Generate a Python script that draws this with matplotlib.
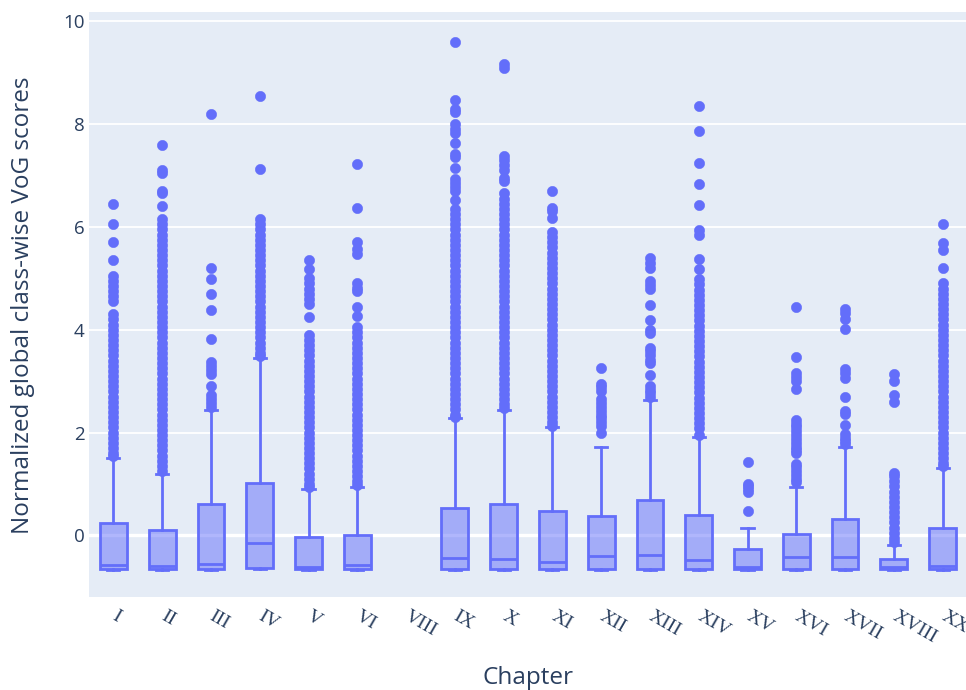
import matplotlib.pyplot as plt

# ── Data ──────────────────────────────────────────────
chapters = ['I', 'II', 'III', 'IV', 'V', 'VI', 'VIII', 'IX', 'X',
            'XI', 'XII', 'XIII', 'XIV', 'XV', 'XVI', 'XVII',
            'XVIII', 'XX']

# chapters that actually have a box (VIII is empty)
box_chapters = ['I', 'II', 'III', 'IV', 'V', 'VI', 'IX', 'X', 'XI',
                'XII', 'XIII', 'XIV', 'XV', 'XVI', 'XVII', 'XVIII', 'XX']

q1 = [-0.66, -0.66, -0.66, -0.64, -0.66, -0.66, -0.66, -0.66, -0.66,
      -0.66, -0.66, -0.66, -0.66, -0.66, -0.66, -0.66, -0.66]
median = [-0.58, -0.59, -0.56, -0.15, -0.62, -0.58, -0.45, -0.46, -0.51,
          -0.41, -0.39, -0.48, -0.62, -0.43, -0.43, -0.62, -0.59]
q3 = [0.23, 0.10, 0.61, 1.01, -0.03, 0.00, 0.53, 0.61, 0.47,
      0.37, 0.68, 0.39, -0.27, 0.03, 0.32, -0.46, 0.14]
whisker_lo = [-0.68, -0.68, -0.68, -0.66, -0.68, -0.68, -0.68, -0.68, -0.68,
              -0.68, -0.68, -0.68, -0.68, -0.68, -0.68, -0.68, -0.68]
whisker_hi = [1.51, 1.19, 2.44, 3.44, 0.90, 0.94, 2.28, 2.44, 2.10,
              1.72, 2.64, 1.92, 0.14, 0.94, 1.71, -0.19, 1.31]

outliers_I = [6.45, 6.05, 5.7, 5.35, 5.05, 4.95, 4.85, 4.75, 4.65, 4.55,
              4.3, 4.2, 4.1, 4.0, 3.9, 3.8, 3.7, 3.6, 3.5, 3.4, 3.3, 3.2,
              3.1, 3.0, 2.9, 2.8, 2.7, 2.6, 2.5, 2.4, 2.3, 2.2, 2.1, 2.0,
              1.9, 1.8, 1.7, 1.6, 1.55]
outliers_II = [7.6, 7.1, 7.05, 6.7, 6.65, 6.4, 6.15, 6.05, 5.95, 5.85,
               5.75, 5.65, 5.55, 5.45, 5.35, 5.25, 5.15, 5.05, 4.95, 4.85,
               4.75, 4.65, 4.55, 4.45, 4.35, 4.25, 4.15, 4.05, 3.95, 3.85,
               3.75, 3.65, 3.55, 3.45, 3.35, 3.25, 3.15, 3.05, 2.95, 2.85,
               2.75, 2.65, 2.55, 2.45, 2.35, 2.25, 2.15, 2.05, 1.95, 1.85,
               1.75, 1.65, 1.55, 1.45, 1.35, 1.25]
outliers_III = [8.2, 5.2, 4.98, 4.7, 4.38, 3.82, 3.38, 3.3, 3.22, 3.14,
                2.9, 2.72, 2.65, 2.58, 2.5]
outliers_IV = [8.55, 7.13, 6.15, 6.05, 5.95, 5.85, 5.75, 5.65, 5.55, 5.45,
               5.35, 5.25, 5.15, 5.05, 4.95, 4.85, 4.75, 4.65, 4.55, 4.45,
               4.35, 4.25, 4.15, 4.05, 3.95, 3.85, 3.75, 3.65, 3.55, 3.48]
outliers_V = [5.35, 5.18, 5.0, 4.9, 4.8, 4.7, 4.6, 4.5, 4.25, 3.9, 3.8,
              3.7, 3.6, 3.5, 3.4, 3.3, 3.2, 3.1, 3.0, 2.9, 2.8, 2.7, 2.6,
              2.5, 2.4, 2.3, 2.2, 2.1, 2.0, 1.9, 1.8, 1.7, 1.6, 1.5, 1.4,
              1.3, 1.2, 1.1, 1.0, 0.94]
outliers_VI = [7.23, 6.37, 5.71, 5.57, 5.48, 4.9, 4.82, 4.75, 4.45, 4.27,
               4.05, 3.95, 3.85, 3.75, 3.65, 3.55, 3.45, 3.35, 3.25, 3.15,
               3.05, 2.95, 2.85, 2.75, 2.65, 2.55, 2.45, 2.35, 2.25, 2.15,
               2.05, 1.95, 1.85, 1.75, 1.65, 1.55, 1.45, 1.35, 1.25, 1.15,
               1.05, 0.98]
outliers_IX = [9.6, 8.47, 8.3, 8.23, 8.0, 7.9, 7.82, 7.63, 7.42, 7.35, 7.14,
               6.93, 6.85, 6.78, 6.7, 6.52, 6.35, 6.25, 6.15, 6.05, 5.95,
               5.85, 5.75, 5.65, 5.55, 5.45, 5.35, 5.25, 5.15, 5.05, 4.95,
               4.85, 4.75, 4.65, 4.55, 4.45, 4.35, 4.25, 4.15, 4.05, 3.95,
               3.85, 3.75, 3.65, 3.55, 3.45, 3.35, 3.25, 3.15, 3.05, 2.95,
               2.85, 2.75, 2.65, 2.55, 2.45, 2.35, 2.3]
outliers_X = [9.17, 9.1, 7.37, 7.3, 7.2, 7.1, 6.95, 6.9, 6.65, 6.55, 6.45,
              6.35, 6.25, 6.15, 6.05, 5.95, 5.85, 5.75, 5.65, 5.55, 5.45,
              5.35, 5.25, 5.15, 5.05, 4.95, 4.85, 4.75, 4.65, 4.55, 4.45,
              4.35, 4.25, 4.15, 4.05, 3.95, 3.85, 3.75, 3.65, 3.55, 3.45,
              3.35, 3.25, 3.15, 3.05, 2.95, 2.85, 2.75, 2.65, 2.55, 2.47]
outliers_XI = [6.7, 6.37, 6.3, 6.17, 5.9, 5.8, 5.7, 5.6, 5.5, 5.4, 5.3,
               5.2, 5.1, 5.0, 4.9, 4.8, 4.7, 4.6, 4.5, 4.4, 4.3, 4.2, 4.1,
               4.0, 3.9, 3.8, 3.7, 3.6, 3.5, 3.4, 3.3, 3.2, 3.1, 3.0, 2.9,
               2.8, 2.7, 2.6, 2.5, 2.4, 2.3, 2.2, 2.12]
outliers_XII = [3.25, 2.95, 2.88, 2.8, 2.65, 2.58, 2.5, 2.42, 2.35, 2.28,
                2.2, 2.13, 2.0]
outliers_XIII = [5.4, 5.3, 5.2, 4.95, 4.87, 4.8, 4.48, 4.19, 4.0, 3.93,
                 3.65, 3.58, 3.5, 3.42, 3.35, 3.12, 2.9, 2.83, 2.76, 2.7]
outliers_XIV = [8.35, 7.86, 7.25, 6.83, 6.42, 5.93, 5.85, 5.38, 5.18, 4.98,
                4.88, 4.78, 4.68, 4.58, 4.48, 4.38, 4.28, 4.18, 4.08, 3.98,
                3.88, 3.78, 3.68, 3.58, 3.48, 3.38, 3.28, 3.18, 3.08, 2.98,
                2.88, 2.78, 2.68, 2.58, 2.48, 2.38, 2.28, 2.18, 2.08, 1.96]
outliers_XV = [1.42, 1.0, 0.95, 0.9, 0.85, 0.48]
outliers_XVI = [4.45, 3.47, 3.15, 3.08, 3.0, 2.85, 2.25, 2.17, 2.1, 2.02,
                1.95, 1.87, 1.8, 1.72, 1.65, 1.6, 1.38, 1.32, 1.25, 1.18,
                1.1, 1.03]
outliers_XVII = [4.4, 4.33, 4.2, 4.02, 3.23, 3.15, 3.06, 2.69, 2.42, 2.36,
                 2.15, 1.97, 1.9, 1.83, 1.78]
outliers_XVIII = [3.13, 3.0, 2.72, 2.6, 1.22, 1.15, 1.05, 0.95, 0.85, 0.75,
                  0.65, 0.55, 0.45, 0.35, 0.25, 0.15, 0.05, -0.05, -0.13]
outliers_XX = [6.05, 5.68, 5.55, 5.2, 4.9, 4.8, 4.7, 4.6, 4.5, 4.4, 4.3,
               4.2, 4.1, 4.0, 3.9, 3.8, 3.7, 3.6, 3.5, 3.4, 3.3, 3.2, 3.1,
               3.0, 2.9, 2.8, 2.7, 2.6, 2.5, 2.4, 2.3, 2.2, 2.1, 2.0, 1.9,
               1.8, 1.7, 1.6, 1.5, 1.4, 1.35]

outliers = [outliers_I, outliers_II, outliers_III, outliers_IV, outliers_V,
            outliers_VI, outliers_IX, outliers_X, outliers_XI, outliers_XII,
            outliers_XIII, outliers_XIV, outliers_XV, outliers_XVI,
            outliers_XVII, outliers_XVIII, outliers_XX]

yticks = [0, 2, 4, 6, 8, 10]

# ── Style ─────────────────────────────
BLUE = '#636EFA'
TEXT = '#2a3f5f'
BG = '#E5ECF6'

fig = plt.figure(figsize=(9.66, 6.9), dpi=100)
fig.patch.set_facecolor('white')
ax = fig.add_axes([89 / 966, 1 - 597 / 690, 878 / 966, 585 / 690])
ax.set_facecolor(BG)

stats = []
for i, name in enumerate(box_chapters):
    stats.append(dict(med=median[i], q1=q1[i], q3=q3[i],
                      whislo=whisker_lo[i], whishi=whisker_hi[i],
                      fliers=outliers[i], label=name))
positions = [chapters.index(n) for n in box_chapters]

ax.bxp(stats, positions=positions, widths=0.55, capwidths=0.25,
       patch_artist=True, manage_ticks=False,
       boxprops=dict(facecolor=(99 / 255, 110 / 255, 250 / 255, 0.5),
                     edgecolor=BLUE, linewidth=2.0),
       medianprops=dict(color=BLUE, linewidth=2.0),
       whiskerprops=dict(color=BLUE, linewidth=2.0),
       capprops=dict(color=BLUE, linewidth=2.0),
       flierprops=dict(marker='o', markerfacecolor=BLUE,
                       markeredgecolor=BLUE, markeredgewidth=0.4,
                       markersize=7.4),
       zorder=3)

ax.set_xlim(-0.5, len(chapters) - 0.5)
ax.set_ylim(-1.2, 10.18)
ax.set_yticks(yticks)
ax.set_yticklabels([str(t) for t in yticks], fontfamily='Open Sans',
                   fontsize=13.5, color=TEXT)
ax.set_xticks(range(len(chapters)))
ax.set_xticklabels(chapters, fontfamily='Liberation Serif', fontsize=14,
                   color=TEXT, rotation=-30, ha='left', va='center',
                   rotation_mode='anchor')
ax.tick_params(axis='both', length=0)
ax.tick_params(axis='y', pad=3)
ax.tick_params(axis='x', pad=13)

ax.grid(True, axis='y', color='white', linewidth=1.3, zorder=0)
ax.axhline(0, color='white', linewidth=2.4, zorder=1)
ax.set_axisbelow(True)
for s in ax.spines.values():
    s.set_visible(False)

fig.text(23 / 966, 1 - 305 / 690, 'Normalized global class-wise VoG scores',
         rotation=90, ha='center', va='center', fontfamily='Open Sans',
         fontsize=17.5, color=TEXT)
fig.text(528 / 966, 1 - 678 / 690, 'Chapter', ha='center', va='center',
         fontfamily='Open Sans', fontsize=17.5, color=TEXT)

plt.savefig('out.png', dpi=100, facecolor='white')
plt.close()
